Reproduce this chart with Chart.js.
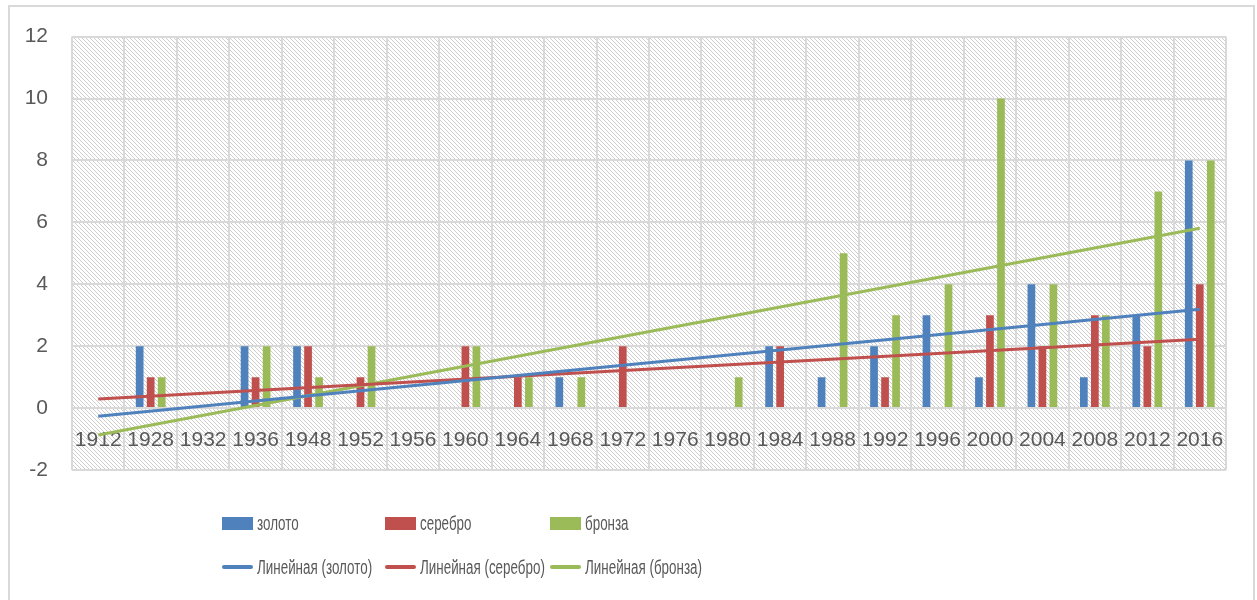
<!DOCTYPE html>
<html>
<head>
<meta charset="utf-8">
<script src="https://cdn.jsdelivr.net/npm/chart.js@4"></script>
<style>
	body { margin: 0; background: #fff; }
	#wrap { position: relative; width: 1257px; height: 600px; }
	#frame { position: absolute; left: 8px; top: 5px; width: 1247px; height: 600px; border: 2px solid #d9d9d9; box-sizing: border-box; pointer-events: none; }
	#legend { position: absolute; left: 0; top: 0; width: 1257px; height: 600px; pointer-events: none;
		font-family: "Liberation Sans", Arial, sans-serif; font-size: 20px; color: #595959; }
	.item { position: absolute; display: flex; align-items: center; white-space: nowrap; }
	.item span.mark { display: inline-block; width: 31px; margin-right: 4px; }
	/* the original uses a narrow face (Calibri); squeeze the text to its width */
	.item span.txt { display: inline-block; transform: scaleX(0.67); transform-origin: left center; }
</style>
</head>
<body>
<div id="wrap">
	<canvas id="medals" width="1257" height="600"></canvas>
	<div id="frame"></div>
	<div id="legend"></div>
</div>
<script>
var years = ['1912', '1928', '1932', '1936', '1948', '1952', '1956', '1960', '1964', '1968', '1972',
	'1976', '1980', '1984', '1988', '1992', '1996', '2000', '2004', '2008', '2012', '2016']
var gold   = [0, 2, 0, 2, 2, 0, 0, 0, 0, 1, 0, 0, 0, 2, 1, 2, 3, 1, 4, 1, 3, 8]
var silver = [0, 1, 0, 1, 2, 1, 0, 2, 1, 0, 2, 0, 0, 2, 0, 1, 0, 3, 2, 3, 2, 4]
var bronze = [0, 1, 0, 2, 1, 2, 0, 2, 1, 1, 0, 0, 1, 0, 5, 3, 4, 10, 4, 3, 7, 8]
// trend line ends (first and last year)
var goldTrend   = [-0.26, 3.19]
var silverTrend = [0.29, 2.22]
var bronzeTrend = [-0.87, 5.81]

var font = '"Liberation Sans", Arial, sans-serif'

function trend(ends) {
	var d = years.map(function() { return null })
	d[0] = ends[0]
	d[d.length - 1] = ends[1]
	return d
}

var hatch = (function() {
	var c = document.createElement('canvas')
	c.width = 4; c.height = 4
	var x = c.getContext('2d')
	x.fillStyle = '#fff'
	x.fillRect(0, 0, 4, 4)
	x.fillStyle = '#cdcdcd'
	for (var i = 0; i < 4; i++) x.fillRect(i, i, 1, 1)
	return x.createPattern(c, 'repeat')
})()

var plotBackground = {
	id: 'plotBackground',
	beforeDraw: function(chart) {
		var a = chart.chartArea, ctx = chart.ctx
		ctx.save()
		ctx.fillStyle = hatch
		ctx.fillRect(a.left, a.top, a.right - a.left, a.bottom - a.top)
		ctx.restore()
	}
}

function bar(label, data, color) {
	return { type: 'bar', label: label, data: data, backgroundColor: color, order: 2,
		categoryPercentage: 0.63, barPercentage: 0.7 }
}
function line(label, data, color) {
	return { type: 'line', label: label, data: data, borderColor: color, backgroundColor: color,
		borderWidth: 3, pointRadius: 0, spanGaps: true, order: 1, fill: false }
}

var chart = new Chart(document.getElementById('medals').getContext('2d'), {
	type: 'bar',
	data: {
		labels: years,
		datasets: [
			bar('золото', gold, '#4f81bd'),
			bar('серебро', silver, '#c0504d'),
			bar('бронза', bronze, '#9bbb59'),
			line('Линейная (золото)', trend(goldTrend), '#4f81bd'),
			line('Линейная (серебро)', trend(silverTrend), '#c0504d'),
			line('Линейная (бронза)', trend(bronzeTrend), '#9bbb59')
		]
	},
	options: {
		responsive: false,
		animation: false,
		layout: { padding: { left: 0, right: 31, top: 36, bottom: 130 } },
		plugins: { legend: { display: false }, tooltip: { enabled: false } },
		scales: {
			x: {
				position: { y: 0 },
				grid: { color: '#d9d9d9', lineWidth: 2, drawTicks: false, offset: true },
				border: { display: false },
				ticks: { autoSkip: false, maxRotation: 0, padding: 20, color: '#595959', font: { family: font, size: 21 } }
			},
			y: {
				min: -2, max: 12,
				grid: { color: '#d9d9d9', lineWidth: 2, drawTicks: false },
				border: { display: false },
				ticks: { stepSize: 2, padding: 24, color: '#595959', font: { family: font, size: 21 } },
				afterFit: function(scale) { scale.width = 72 }
			}
		}
	},
	plugins: [plotBackground]
})

// legend in two rows of three, like the original
var legend = document.getElementById('legend')
var cols = [222, 385, 550], rows = [523, 567]
chart.data.datasets.forEach(function(ds, i) {
	var el = document.createElement('div')
	el.className = 'item'
	el.style.left = cols[i % 3] + 'px'
	el.style.top = (rows[Math.floor(i / 3)] - 12) + 'px'
	el.style.height = '24px'
	var mark = document.createElement('span')
	mark.className = 'mark'
	if (ds.type === 'bar') {
		mark.style.height = '13px'
		mark.style.background = ds.backgroundColor
	} else {
		mark.style.height = '4px'
		mark.style.borderRadius = '2px'
		mark.style.background = ds.borderColor
	}
	var txt = document.createElement('span')
	txt.className = 'txt'
	txt.textContent = ds.label
	el.appendChild(mark)
	el.appendChild(txt)
	legend.appendChild(el)
})
</script>
</body>
</html>
